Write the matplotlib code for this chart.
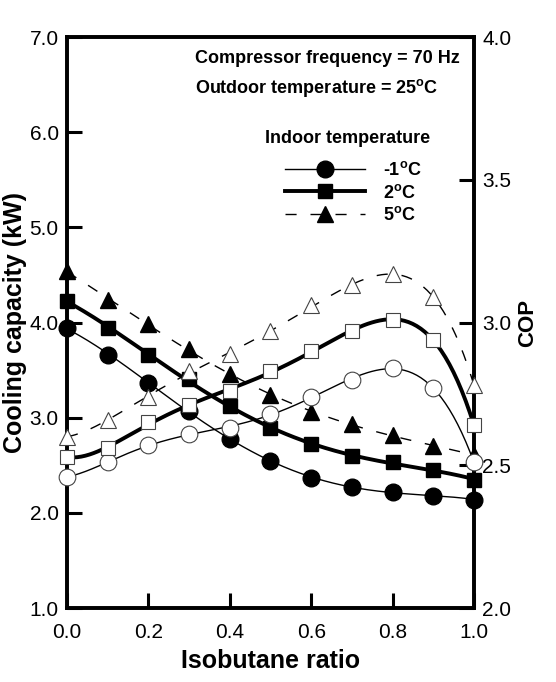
import numpy as np
import matplotlib
matplotlib.use('Agg')
import matplotlib.pyplot as plt
from matplotlib.lines import Line2D

plt.rcParams['font.family'] = ['Liberation Sans', 'DejaVu Sans']
plt.rcParams['mathtext.fontset'] = 'custom'
plt.rcParams['mathtext.rm'] = 'Liberation Sans'
plt.rcParams['mathtext.bf'] = 'Liberation Sans:bold'

# data
ratio = [0.0, 0.1, 0.2, 0.3, 0.4, 0.5, 0.6, 0.7, 0.8, 0.9, 1.0]
labels = ['-1$^{\\mathbf{o}}$C', '2$^{\\mathbf{o}}$C', '5$^{\\mathbf{o}}$C']

# cooling capacity (kW)
cap_m1 = [3.94, 3.66, 3.37, 3.07, 2.78, 2.54, 2.37, 2.27, 2.22, 2.18, 2.14]
cap_2 = [4.23, 3.94, 3.66, 3.41, 3.12, 2.89, 2.72, 2.60, 2.53, 2.45, 2.35]
cap_5 = [4.54, 4.24, 3.98, 3.72, 3.46, 3.24, 3.06, 2.93, 2.82, 2.70, 2.61]

# COP
cop_m1 = [2.46, 2.51, 2.57, 2.61, 2.63, 2.68, 2.74, 2.80, 2.84, 2.77, 2.51]
cop_2 = [2.53, 2.56, 2.65, 2.71, 2.76, 2.83, 2.90, 2.97, 3.01, 2.94, 2.64]
cop_5 = [2.60, 2.66, 2.74, 2.83, 2.89, 2.97, 3.06, 3.13, 3.17, 3.09, 2.78]

fig = plt.figure(figsize=(5.56, 6.82), dpi=100)
ax = fig.add_axes([0.1205, 0.1085, 0.732, 0.837])
ax2 = ax.twinx()

xs = np.linspace(0, 1, 200)
styles = [dict(lw=1.0, ls='-'), dict(lw=2.8, ls='-'), dict(lw=1.0, ls=(0, (8, 10)))]
markers = ['o', 's', '^']
msizes = [12, 10, 12]

# cooling capacity: filled markers, smooth trend lines
for y, st, m, ms in zip([cap_m1, cap_2, cap_5], styles, markers, msizes):
    p = np.polyfit(ratio, y, 4)
    ax.plot(xs, np.polyval(p, xs), color='black', **st)
    ax.plot(ratio, y, ls='none', marker=m, ms=ms, color='black', clip_on=False, zorder=5)

# COP: open markers
for y, st, m, ms in zip([cop_m1, cop_2, cop_5], styles, markers, msizes):
    p = np.polyfit(ratio, y, 6)
    ax2.plot(xs, np.polyval(p, xs), color='black', **st)
    ax2.plot(ratio, y, ls='none', marker=m, ms=ms, mfc='white', mec='#444444', mew=0.8,
             clip_on=False, zorder=5)

ax.set_xlim(0, 1)
ax.set_ylim(1, 7)
ax2.set_ylim(2, 4)
ax.set_xticks(np.arange(0, 1.01, 0.2))
ax.set_yticks(np.arange(1, 7.01, 1.0))
ax2.set_yticks(np.arange(2, 4.01, 0.5))
ax.xaxis.set_major_formatter(matplotlib.ticker.FormatStrFormatter('%.1f'))
ax.yaxis.set_major_formatter(matplotlib.ticker.FormatStrFormatter('%.1f'))
ax2.yaxis.set_major_formatter(matplotlib.ticker.FormatStrFormatter('%.1f'))

for a in (ax, ax2):
    a.tick_params(direction='in', length=11, width=2.2, labelsize=15, pad=6)
    for s in a.spines.values():
        s.set_linewidth(2.6)
ax.tick_params(axis='x', pad=11)

ax.set_xlabel('Isobutane ratio', fontsize=18, fontweight='bold', labelpad=5)
ax.set_ylabel('Cooling capacity (kW)', fontsize=18, fontweight='bold', labelpad=2)
ax2.set_ylabel('COP', fontsize=16, fontweight='bold', labelpad=4)

ax.text(0.315, 0.963, 'Compressor frequency = 70 Hz', transform=ax.transAxes,
        fontsize=13, fontweight='bold', va='center', ha='left')
ax.text(0.315, 0.911, 'Outdoor temperature = 25$^{\\mathbf{o}}$C', transform=ax.transAxes,
        fontsize=13, fontweight='bold', va='center', ha='left')
ax.text(0.69, 0.823, 'Indoor temperature', transform=ax.transAxes,
        fontsize=13, fontweight='bold', va='center', ha='center')

handles = [Line2D([], [], color='black', marker=m, ms=ms, **st)
           for st, m, ms in zip(styles, markers, msizes)]
leg = ax2.legend(handles, labels, loc='upper left', bbox_to_anchor=(0.536, 0.783),
                 frameon=False, fontsize=13, handlelength=4.4, labelspacing=0.25,
                 handletextpad=1.0, borderaxespad=0, borderpad=0)
for t in leg.get_texts():
    t.set_fontweight('bold')

fig.savefig('out.png', dpi=100)
